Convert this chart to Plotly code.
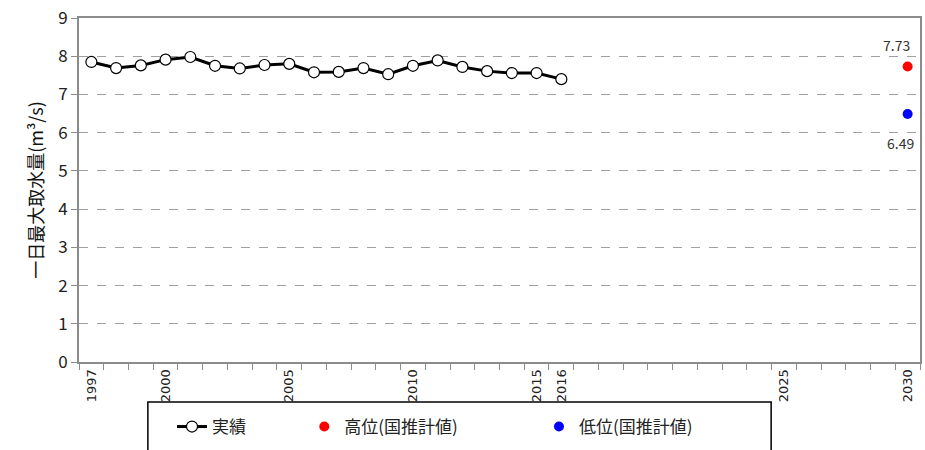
import plotly.graph_objects as go

years = list(range(1997, 2017))
actual = [7.85, 7.69, 7.76, 7.91, 7.98, 7.75, 7.68, 7.77, 7.80, 7.58,
          7.59, 7.69, 7.53, 7.75, 7.89, 7.72, 7.61, 7.56, 7.56, 7.40]
proj_year = [2030]
high_val = [7.73]
low_val = [6.49]
tick_years = [1997, 2000, 2005, 2010, 2015, 2016, 2025, 2030]

NB = "\u00a0"
FONT = "Noto Sans CJK JP, Noto Sans, sans-serif"

fig = go.Figure()
fig.add_trace(go.Scatter(
    x=years, y=actual, mode="lines+markers", name="実績" + NB * 14,
    line=dict(color="black", width=3),
    marker=dict(symbol="circle", size=11, color="white", line=dict(color="black", width=1.2)),
))
fig.add_trace(go.Scatter(
    x=proj_year, y=high_val, mode="markers", name="高位(国推計値)" + NB * 20,
    marker=dict(color="#ff0000", size=10),
))
fig.add_trace(go.Scatter(
    x=proj_year, y=low_val, mode="markers", name="低位(国推計値)",
    marker=dict(color="#0000ff", size=10),
))

# data labels anchored to the data points
for xv, yv in zip(proj_year, high_val):
    fig.add_annotation(x=xv, y=yv, text=f"{yv:.2f}", showarrow=False,
                       xanchor="right", yanchor="middle", xshift=4, yshift=22,
                       font=dict(size=14, color="#333333"))
for xv, yv in zip(proj_year, low_val):
    fig.add_annotation(x=xv, y=yv, text=f"{yv:.2f}", showarrow=False,
                       xanchor="right", yanchor="middle", xshift=8, yshift=-29,
                       font=dict(size=14, color="#333333"))

fig.add_shape(type="rect", xref="paper", yref="paper",
              x0=0.0819, x1=0.823, y0=-0.116, y1=-0.30,
              line=dict(color="black", width=1.5), fillcolor="rgba(0,0,0,0)")

fig.update_layout(
    width=925, height=450,
    margin=dict(l=79, r=3, t=18, b=88),
    paper_bgcolor="white", plot_bgcolor="white",
    font=dict(family=FONT, color="#222222"),
    showlegend=True,
    legend=dict(orientation="h", xref="container", yref="container",
                x=172 / 925, y=1 - 427 / 450, xanchor="left", yanchor="middle",
                font=dict(size=17, color="#222222"), bgcolor="rgba(0,0,0,0)",
                borderwidth=0, itemwidth=30),
    xaxis=dict(
        range=[1996.5, 2030.5], tickvals=tick_years, ticktext=[str(t) for t in tick_years],
        tickangle=-90, ticks="", showgrid=False, zeroline=False,
        tickfont=dict(size=13, color="#222222", family="DejaVu Sans"),
        showline=True, linecolor="#8c8c8c", linewidth=2, mirror=True,
        minor=dict(tick0=1996.5, dtick=1, ticks="outside", ticklen=6,
                   tickcolor="#8c8c8c", tickwidth=1, showgrid=False),
    ),
    yaxis=dict(
        range=[0, 9], dtick=1, ticks="outside", ticklen=6, tickcolor="#8c8c8c",
        showgrid=True, gridcolor="#a0a0a0", griddash="dash", gridwidth=1,
        zeroline=False, showline=True, linecolor="#8c8c8c", linewidth=2, mirror=True,
        tickfont=dict(size=17, color="#222222"),
        title=dict(text="一日最大取水量(m³/s)", font=dict(size=18, color="#111111"), standoff=10),
    ),
)

fig.write_html("out.html", config={"displayModeBar": False},
               post_script="document.body.style.margin='0';")
